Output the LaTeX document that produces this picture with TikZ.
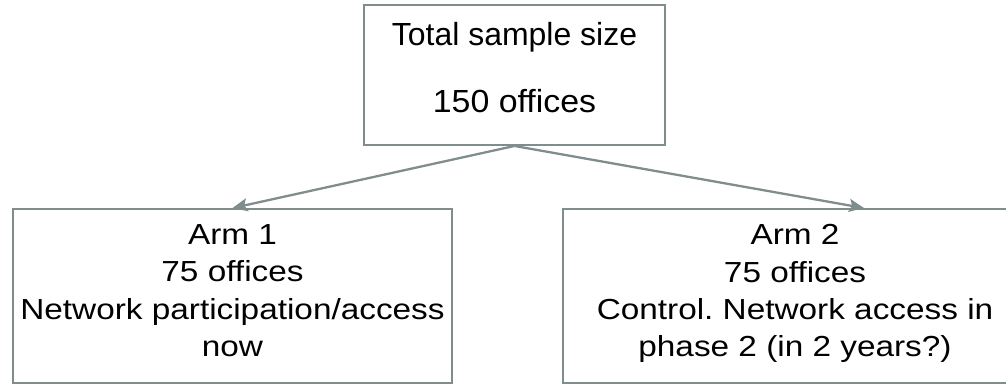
\documentclass[tikz,border=0pt]{standalone}
\usepackage{fontspec}
\setmainfont{Liberation Sans}
\newfontfamily\armfont[FakeStretch=1.15]{Liberation Sans}
\newfontfamily\totalfont[FakeStretch=1.06]{Liberation Sans}
\usetikzlibrary{arrows.meta}
\definecolor{framegray}{RGB}{127,141,141}
\frenchspacing

\begin{document}
\begin{tikzpicture}[x=0.02cm, y=-0.02cm,
    box/.style = {draw=framegray, line width=1.1pt, align=center, inner sep=0pt},
    armbox/.style = {box, minimum height=3.48cm, text depth=0.22cm,
                     font=\armfont\fontsize{16.5}{21.2}\selectfont},
    link/.style = {draw=framegray, line width=1.3pt,
                   -{Stealth[length=0.3cm, width=0.26cm, inset=0.06cm]}}]
            % page
            \useasboundingbox(0,0)rectangle(1006,385);
            \clip(0,0)rectangle(1006,385);
            % sample
            \node[box, minimum width=6.02cm, minimum height=2.8cm, text depth=0.32cm,
                  font=\fontsize{18.2}{38.1}\selectfont](total)at(514.5,75)
                 {Total sample size\\{\totalfont 150 offices}};
            % arm 1
            \node[armbox, minimum width=8.78cm](arm1)at(232.5,296)
                 {Arm 1\\75 offices\\Network participation/access\\now};
            % arm 2
            \node[armbox, minimum width=9.28cm](arm2)at(795,296)
                 {Arm 2\\75 offices\\Control. Network access in\\phase 2 (in 2 years?)};
            \coordinate(tip2)at([xshift=6.04cm]arm2.north west);
            % arrows
            \path[link](total.south)to(arm1.north);
            \path[link](total.south)to(tip2);
        \end{tikzpicture}
\end{document}
